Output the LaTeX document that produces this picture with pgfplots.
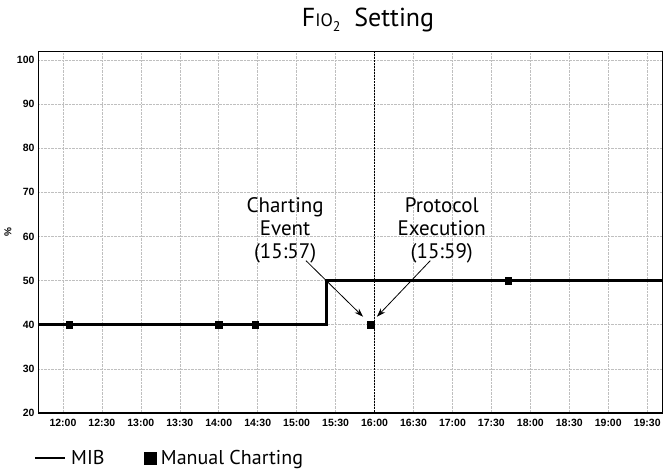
\documentclass[border=0pt]{standalone}
\usepackage{fontspec}
\setmainfont{PT Sans}
\newfontfamily\arialfont{Liberation Sans}
\usepackage{pgfplots}
\pgfplotsset{compat=1.18}
\usetikzlibrary{arrows.meta}
\begin{document}
\begin{tikzpicture}[x=1pt,y=1pt]
\useasboundingbox (0,0) rectangle (666,469);
\node[anchor=base, font=\fontsize{26}{28}\selectfont] at (368,442)
  {F{\fontsize{18}{18}\selectfont IO\raisebox{-0.5ex}{\fontsize{14}{14}\selectfont 2}}\ \ Setting};
\node[rotate=90, font=\arialfont\bfseries\fontsize{10}{10}\selectfont] at (8,237) {\%};
\begin{axis}[
  at={(38pt,56pt)}, anchor=south west,
  scale only axis, width=624pt, height=362pt,
  xmin=11.68, xmax=19.69, ymin=20, ymax=102,
  xtick={12,12.5,13,13.5,14,14.5,15,15.5,16,16.5,17,17.5,18,18.5,19,19.5},
  xticklabels={12:00,12:30,13:00,13:30,14:00,14:30,15:00,15:30,16:00,16:30,17:00,17:30,18:00,18:30,19:00,19:30},
  ytick={20,30,40,50,60,70,80,90,100},
  grid=major,
  grid style={gray!50, densely dotted, line width=0.5pt},
  major tick length=0pt,
  ticklabel style={font=\arialfont\bfseries\fontsize{10.5}{10.5}\selectfont},
  /pgf/number format/assume math mode=true,
  xticklabel style={yshift=-3pt},
  axis line style={black, line width=0.8pt},
  extra x ticks={16}, extra x tick labels={},
  extra x tick style={grid style={black, densely dotted, line width=0.6pt}},
  legend columns=2,
  legend style={at={(axis description cs:-0.012,-0.124)}, anchor=west, draw=none,
    fill=none, font=\fontsize{20}{20}\selectfont,
    /tikz/every even column/.append style={column sep=34pt},
    nodes={inner xsep=5pt}},
]
\addplot[black, line width=2.5pt, const plot,
  legend image code/.code={\draw[black, line width=2.5pt] (0pt,0pt) -- (30pt,0pt);}]
  coordinates {(11.68,40) (15.383,50) (19.69,50)};
\addlegendentry{MIB}
\addplot[only marks, mark=square*, mark size=3.2pt, black,
  legend image code/.code={\fill[black] (4pt,-6pt) rectangle (16pt,6pt);}]
  coordinates {(12.083,40) (14.0,40) (14.467,40) (15.95,40) (17.717,50)};
\addlegendentry{Manual Charting}
\draw[black, line width=1.6pt] (rel axis cs:0,1) -- (rel axis cs:0,0) -- (rel axis cs:1,0);
\node[align=center, font=\fontsize{21}{23}\selectfont] at (axis cs:14.852,61.4)
  {Charting\\Event\\(15:57)};
\node[align=center, font=\fontsize{21}{23}\selectfont] at (axis cs:16.863,61.4)
  {Protocol\\Execution\\(15:59)};
\draw[-{Stealth[length=9pt,width=6pt]}, line width=0.8pt]
  (axis cs:15.12,54.5) -- (axis cs:15.853,41.8);
\draw[-{Stealth[length=9pt,width=6pt]}, line width=0.8pt]
  (axis cs:16.715,54.5) -- (axis cs:16.03,41.8);
\end{axis}
\end{tikzpicture}
\end{document}
